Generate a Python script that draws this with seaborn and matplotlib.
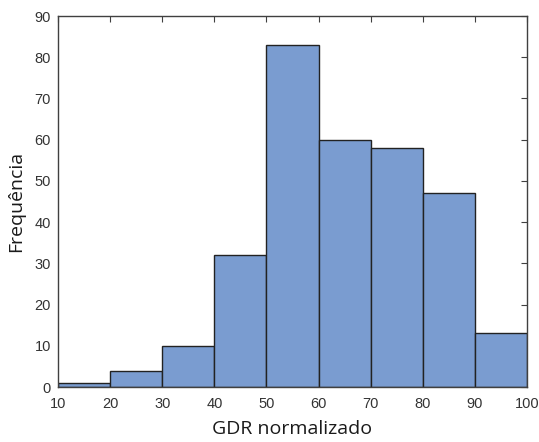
import matplotlib
matplotlib.use("Agg")
import matplotlib.pyplot as plt
import seaborn as sns
import numpy as np

bin_edges = [10, 20, 30, 40, 50, 60, 70, 80, 90, 100]
counts = [1, 4, 10, 32, 83, 60, 58, 47, 13]
x_ticks = [10, 20, 30, 40, 50, 60, 70, 80, 90, 100]
y_ticks = [0, 10, 20, 30, 40, 50, 60, 70, 80, 90]

centers = [(a + b) / 2 for a, b in zip(bin_edges[:-1], bin_edges[1:])]

sns.set_style("white")
plt.rcParams['font.family'] = ['Liberation Sans', 'DejaVu Sans']

fig = plt.figure(figsize=(5.39, 4.42), dpi=100)
ax = fig.add_axes([0.1076, 0.1244, 0.8701, 0.8394])
sns.histplot(x=centers, weights=counts, bins=bin_edges, ax=ax,
             color="#7A9CD0", alpha=1.0, edgecolor="#222222", linewidth=1.0)
ax.set_xlim(10, 100)
ax.set_ylim(0, 90)
ax.set_xticks(x_ticks)
ax.set_yticks(y_ticks)
ax.tick_params(direction='in', top=True, right=True, length=4, width=0.8,
               colors='#404040', labelsize=10.5, labelcolor='#333333')
ax.tick_params(axis='x', pad=7)
ax.tick_params(axis='y', pad=5)
for s in ax.spines.values():
    s.set_color('#404040')
    s.set_linewidth(1.0)
    s.set_visible(True)
ax.set_xlabel("GDR normalizado", fontsize=14, family=['Open Sans', 'DejaVu Sans'], color='#1a1a1a', labelpad=7)
ax.set_ylabel("Frequência", fontsize=14, family=['Open Sans', 'DejaVu Sans'], color='#1a1a1a', labelpad=7)
fig.savefig("out.png", dpi=100)
